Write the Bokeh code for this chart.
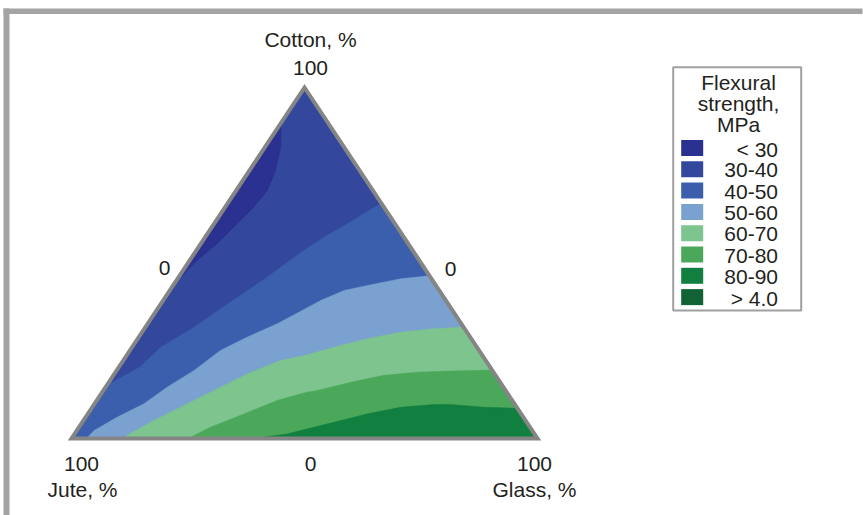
from bokeh.plotting import figure
from bokeh.models import Range1d, ColumnDataSource
from bokeh.core.properties import value
from bokeh.embed import file_html
from bokeh.resources import INLINE

# ---------------- data ----------------
legend_title = ["Flexural", "strength,", "MPa"]
levels = ["< 30", "30-40", "40-50", "50-60", "60-70", "70-80", "80-90", "> 4.0"]
colors = ["#2b3190", "#33489c", "#3b5fad", "#7aa1d0", "#7dc48e", "#4ba85b", "#117f3f", "#116234"]

axis_titles = ["Cotton, %", "Jute, %", "Glass, %"]
top_tick = ["100"]
side_ticks = ["0", "0"]
bottom_ticks = ["100", "0", "100"]

# contour boundaries as (cotton %, glass %) points; jute = 100 - cotton - glass
b30_cotton = [90.0, 83.0, 76.4, 70.7, 65.9, 61.2, 55.5, 50.7, 46.9, 43.6]
b30_glass = [0.0, 3.4, 5.6, 6.7, 6.2, 5.0, 3.5, 1.6, 0.6, 0.0]

b40_cotton = [67.0, 64.4, 61.2, 57.6, 53.6, 46.0, 37.0, 31.6, 25.9, 20.5, 15.1]
b40_glass = [33.0, 30.9, 28.6, 25.7, 23.1, 19.0, 13.5, 10.4, 6.1, 4.6, 0.0]

b50_cotton = [46.4, 45.5, 43.6, 42.2, 39.3, 37.0, 32.7, 28.9, 25.1, 19.4, 14.6, 9.9, 6.1, 2.3, 0.0]
b50_glass = [53.6, 47.9, 41.7, 37.4, 33.8, 31.7, 27.8, 23.3, 19.4, 16.6, 13.2, 10.6, 6.8, 3.7, 3.2]

b60_cotton = [31.7, 31.3, 30.3, 28.4, 26.0, 23.7, 22.2, 18.4, 13.7, 8.9, 5.1, 0.9, 0.0]
b60_glass = [68.3, 62.1, 55.5, 49.3, 43.3, 38.4, 33.7, 28.5, 23.7, 18.9, 15.1, 11.5, 11.4]

b70_cotton = [19.5, 19.2, 18.9, 18.0, 16.0, 13.7, 13.1, 10.8, 7.0, 3.2, 0.4, 0.0]
b70_glass = [80.5, 71.8, 64.7, 58.0, 51.9, 45.9, 43.7, 38.7, 33.5, 28.2, 25.4, 25.0]

b80_cotton = [8.6, 8.9, 9.7, 9.7, 8.9, 7.0, 4.6, 2.6, 1.3, 0.4, 0.0]
b80_glass = [91.4, 84.0, 76.5, 72.9, 66.1, 59.9, 54.0, 48.9, 45.6, 41.1, 40.5]

# ---------------- layout ----------------
W, H = 863, 515
X0, SX = 71.0, 4.66      # px of jute corner, px per ternary unit (x)
Y0, SY = 438.0, 3.51     # px of base line, px per ternary unit (y)
TY = -8.0                # text baseline correction


def cx(px):
    return (px - X0) / SX


def cy(py):
    return (Y0 - py) / SY


def img(px, py):
    return cx(px), cy(py)


def timg(px, py):
    return cx(px), cy(py + TY)


def tern(c, g):
    xs = [gg + cc / 2.0 for cc, gg in zip(c, g)]
    ys = list(c)
    return xs, ys


p = figure(width=W, height=H, output_backend="svg", toolbar_location=None,
           x_range=Range1d(cx(0), cx(W)), y_range=Range1d(cy(H), cy(0)),
           x_axis_type=None, y_axis_type=None, min_border=0)
p.grid.visible = False
p.outline_line_color = None
p.background_fill_color = "white"
p.border_fill_color = "white"

# page frame (top and left)
p.quad(left=[cx(3)], right=[cx(W - 1)], top=[cy(8)], bottom=[cy(13.5)],
       fill_color="#a4a4a4", line_color=None)
p.quad(left=[cx(3)], right=[cx(9)], top=[cy(8)], bottom=[cy(H)],
       fill_color="#a4a4a4", line_color=None)

# ---------------- contour regions ----------------
corner_c = [100.0, 0.0, 0.0]
corner_g = [0.0, 0.0, 100.0]
xs_list, ys_list, fills = [], [], []

tx, ty = tern(corner_c, corner_g)
xs_list.append(tx); ys_list.append(ty); fills.append(colors[1])

tx, ty = tern(b30_cotton, b30_glass)
xs_list.append(tx); ys_list.append(ty); fills.append(colors[0])

bounds = [(b40_cotton, b40_glass), (b50_cotton, b50_glass), (b60_cotton, b60_glass),
          (b70_cotton, b70_glass), (b80_cotton, b80_glass)]
for i, (bc, bg) in enumerate(bounds):
    c = list(bc)
    g = list(bg)
    if g[-1] == 0.0 and c[-1] > 0.0:   # ends on the left (jute) edge
        c += [0.0, 0.0]
        g += [0.0, 100.0]
    else:                               # ends on the bottom edge
        c += [0.0]
        g += [100.0]
    tx, ty = tern(c, g)
    xs_list.append(tx); ys_list.append(ty); fills.append(colors[i + 2])

p.patches(xs="xs", ys="ys", fill_color="fill", line_color="fill", line_width=0.5,
          source=ColumnDataSource(dict(xs=xs_list, ys=ys_list, fill=fills)))

# triangle outline
tx, ty = tern(corner_c, corner_g)
p.patch(tx, ty, fill_color=None, line_color="#858585", line_width=4, line_join="miter")

# ---------------- texts ----------------
font = value("Liberation Sans")
fs = "21px"
tc = "#231f20"

pos = [timg(310, 47), timg(82, 497), timg(534, 497)]
p.text(x=[q[0] for q in pos], y=[q[1] for q in pos], text=axis_titles,
       text_font=font, text_font_size=fs, text_color=tc,
       text_align="center", text_baseline="alphabetic")

pos = [timg(310, 75)]
p.text(x=[q[0] for q in pos], y=[q[1] for q in pos], text=top_tick,
       text_font=font, text_font_size=fs, text_color=tc,
       text_align="center", text_baseline="alphabetic")

pos = [timg(164, 275.5), timg(450, 276.5)]
p.text(x=[q[0] for q in pos], y=[q[1] for q in pos], text=side_ticks,
       text_font=font, text_font_size=fs, text_color=tc,
       text_align="center", text_baseline="alphabetic")

pos = [timg(81, 471), timg(310, 471), timg(534, 471)]
p.text(x=[q[0] for q in pos], y=[q[1] for q in pos], text=bottom_ticks,
       text_font=font, text_font_size=fs, text_color=tc,
       text_align="center", text_baseline="alphabetic")

# ---------------- legend ----------------
lx0, ly0 = img(672.7, 66.7)
lx1, ly1 = img(800.7, 310)
p.quad(left=[lx0], right=[lx1], top=[ly0], bottom=[ly1],
       fill_color="white", line_color="#a0a0a0", line_width=2)

tpos = [timg(738, 90 + 21 * k) for k in range(len(legend_title))]
p.text(x=[q[0] for q in tpos], y=[q[1] for q in tpos], text=legend_title,
       text_font=font, text_font_size=fs, text_color=tc,
       text_align="center", text_baseline="alphabetic")

step = 21.3
sl, sr = cx(680.7), cx(702.7)
st = [cy(139.5 + step * k) for k in range(len(levels))]
sb = [cy(139.5 + 16 + step * k) for k in range(len(levels))]
p.quad(left=[sl] * len(levels), right=[sr] * len(levels), top=st, bottom=sb,
       fill_color=colors, line_color=None)

lpos = [timg(777.5, 156.5 + step * k) for k in range(len(levels))]
p.text(x=[q[0] for q in lpos], y=[q[1] for q in lpos], text=levels,
       text_font=font, text_font_size=fs, text_color=tc,
       text_align="right", text_baseline="alphabetic")

open("out.html", "w").write(file_html(p, INLINE))
